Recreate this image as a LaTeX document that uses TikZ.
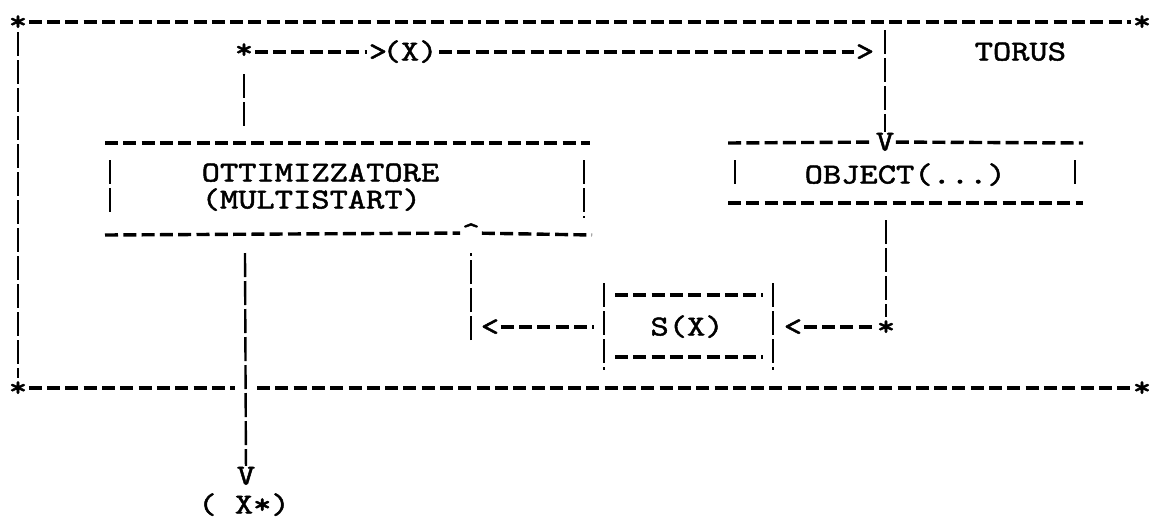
\documentclass[tikz,border=0pt]{standalone}
\usepackage{fontspec}
\newfontfamily\scanfont{lmmono10-regular}[Extension=.otf, FakeStretch=1.2, FakeBold=1.6]
\usepackage{tikz}

\begin{document}
\begin{tikzpicture}[x=1pt, y=-1pt,
    ch/.style={font=\scanfont\fontsize{29}{29}\selectfont, inner sep=1.5pt, text height=17pt, text depth=0pt},
    hdash/.style={line width=3.4pt, dash pattern=on 13pt off 5.3pt},
    vbar/.style={line width=2.4pt, dash pattern=on 24pt off 4pt}]
  \fill[white] (0,0) rectangle (1150,522);
  \useasboundingbox (0,0) rectangle (1150,522);

  \node[ch] (cTL) at (18,22) {*};
  \node[ch] (cTR) at (1142,22) {*};
  \node[ch] (cBL) at (18,388) {*};
  \node[ch] (cBR) at (1142,388) {*};
  \coordinate (cross) at (246,388);
  \draw[hdash] (cTL) -- (cTR);
  \draw[vbar] (cTL) -- (cBL);
  \draw[hdash] (cBL) -- ([xshift=-11pt]cross);
  \draw[hdash] ([xshift=11pt]cross) -- (cBR);
  \node[ch, anchor=west] (torus) at (973,52) {TORUS};

  \node[ch] (start) at (244,50) {*};
  \node[ch] (toX) at (378,52) {>};
  \node[ch] (X) at (410,52) {(X)};
  \node[ch] (toObj) at (865,52) {>};
  \coordinate (startEnd) at (244,127);
  \coordinate (objTop) at (885,30);
  \node[ch] (objIn) at (885,142) {V};
  \draw[hdash] (start.east |- toX) -- (toX);
  \draw[hdash] (X) -- (toObj);
  \draw[vbar, shorten <=14pt] (start) -- (startEnd);
  \draw[vbar] (objTop) -- (objIn);

  \node[ch, anchor=west] (ott) at (200,173) {OTTIMIZZATORE};
  \node[ch, anchor=west] (multi) at (200,200) {(MULTISTART)};
  \node[ch] (back) at (471,233) {\textasciicircum};
  \draw[hdash] (105,143) -- (590,143);
  \draw[hdash] (105,235) -- (back);
  \draw[hdash] (back) -- (592,235);
  \draw[vbar] (110,160) -- (110,215);
  \draw[vbar] (584,160) -- (584,218);

  \node[ch, anchor=west] (obj) at (803,175) {OBJECT(...)};
  \draw[hdash] (728,143) -- (objIn);
  \draw[hdash] (objIn) -- (1083,143);
  \draw[hdash] (728,203) -- (1083,203);
  \draw[vbar] (735,160) -- (735,187);
  \draw[vbar] (1075,160) -- (1075,187);

  \node[ch] (sx) at (687,327) {S(X)};
  \draw[hdash] (615,295) -- (763,295);
  \draw[hdash] (615,357) -- (763,357);
  \draw[vbar] (604,283) -- (604,370);
  \draw[vbar] (773,283) -- (773,370);

  \node[ch] (toSx) at (793,327) {<};
  \node[ch] (objOut) at (886,327) {*};
  \coordinate (objLow) at (886,220);
  \draw[vbar] (objLow) -- (objOut);
  \draw[hdash] (toSx) -- (objOut);

  \node[ch] (toBack) at (490,327) {<};
  \coordinate (sxW) at (594,327);
  \coordinate (backLow) at (471,340);
  \draw[hdash] (toBack) -- (sxW);
  \draw[vbar, shorten >=10pt] (backLow) -- (back);

  \coordinate (ottOut) at (245,253);
  \node[ch] (outV) at (246,476) {V};
  \node[ch] (xstar) at (244,505) {( X*)};
  \draw[vbar] (ottOut) -- (outV);
\end{tikzpicture}
\end{document}
